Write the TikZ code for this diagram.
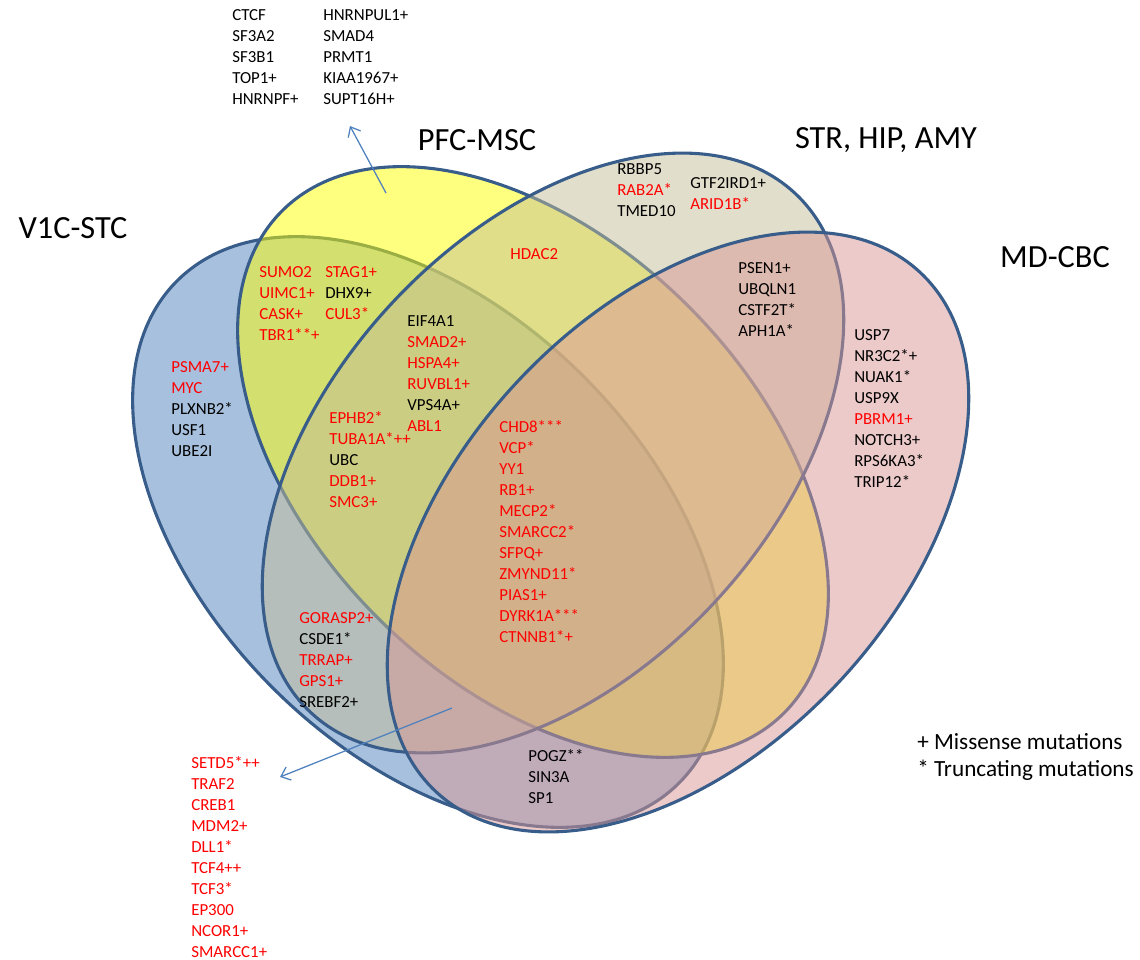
\documentclass[tikz,border=0pt]{standalone}
\usepackage{fontspec}
\setmainfont{Carlito}
\usetikzlibrary{arrows.meta}

\definecolor{setblue}{HTML}{4F81BD}
\definecolor{setyellow}{HTML}{FFFF00}
\definecolor{settan}{HTML}{C4BD97}
\definecolor{setpink}{HTML}{D99694}
\definecolor{rim}{HTML}{385D8A}
\definecolor{hit}{HTML}{FF0000}

% genes printed in red
\newcommand{\rgene}[1]{\textcolor{hit}{#1}}

\tikzset{
  venn/.style={draw=rim, line width=2.2pt, fill opacity=0.5},
  genes/.style={anchor=north west, inner sep=0pt, align=left,
    font=\fontsize{12}{14.9}\selectfont},
  setname/.style={anchor=base, inner sep=0pt, font=\fontsize{23}{27}\selectfont},
  pointer/.style={draw=setblue, line width=0.9pt,
    -{Straight Barb[length=6pt,width=10pt]}},
}

\begin{document}
\begin{tikzpicture}[x=0.025cm, y=-0.025cm]
\useasboundingbox (0,0) rectangle (1140,960);

% the four sets, drawn back to front
\draw[venn, fill=setblue, rotate around={-45:(428,532)}] (428,532) ellipse [x radius=355, y radius=220];
\draw[venn, fill=setyellow, rotate around={-45:(533,462)}] (533,462) ellipse [x radius=355, y radius=220];
\draw[venn, fill=settan, rotate around={47:(553,453)}] (553,453) ellipse [x radius=355, y radius=220];
\draw[venn, fill=setpink, rotate around={47:(678,532)}] (678,532) ellipse [x radius=355, y radius=220];

% set names
\node[setname] (v1c) at (73,238) {V1C-STC};
\node[setname] (pfc) at (477,150) {PFC-MSC};
\node[setname] (str) at (886,148) {STR, HIP, AMY};
\node[setname] (mdc) at (1055,267) {MD-CBC};

% genes
\node[genes] (topA) at (232,9.5) {CTCF\\SF3A2\\SF3B1\\TOP1+\\HNRNPF+};
\node[genes] (topB) at (323,9.5) {HNRNPUL1+\\SMAD4\\PRMT1\\KIAA1967+\\SUPT16H+};

\node[genes] (strA) at (617,163.5) {RBBP5\\\rgene{RAB2A*}\\TMED10};
\node[genes] (strB) at (690,177.5) {GTF2IRD1+\\\rgene{ARID1B*}};
\node[genes] (hdac) at (510,248.5) {\rgene{HDAC2}};

\node[genes] (pfcA) at (259,266.5) {\rgene{SUMO2}\\\rgene{UIMC1+}\\\rgene{CASK+}\\\rgene{TBR1**+}};
\node[genes] (pfcB) at (325,266.5) {\rgene{STAG1+}\\DHX9+\\\rgene{CUL3*}};

\node[genes] (eif) at (407,315.5) {EIF4A1\\\rgene{SMAD2+}\\\rgene{HSPA4+}\\\rgene{RUVBL1+}\\VPS4A+\\\rgene{ABL1}};
\node[genes] (ephb) at (329,411.5) {\rgene{EPHB2*}\\\rgene{TUBA1A*++}\\UBC\\\rgene{DDB1+}\\\rgene{SMC3+}};

\node[genes] (v1cOnly) at (171,361.5) {\rgene{PSMA7+}\\\rgene{MYC}\\PLXNB2*\\USF1\\UBE2I};

\node[genes] (core) at (499,420.5) {\rgene{CHD8***}\\\rgene{VCP*}\\\rgene{YY1}\\\rgene{RB1+}\\\rgene{MECP2*}\\\rgene{SMARCC2*}\\\rgene{SFPQ+}\\\rgene{ZMYND11*}\\\rgene{PIAS1+}\\\rgene{DYRK1A***}\\\rgene{CTNNB1*+}};

\node[genes] (psen) at (738,262.5) {PSEN1+\\UBQLN1\\CSTF2T*\\APH1A*};
\node[genes] (mdcOnly) at (854,329.5) {USP7\\NR3C2*+\\NUAK1*\\USP9X\\\rgene{PBRM1+}\\NOTCH3+\\RPS6KA3*\\TRIP12*};

\node[genes] (gorasp) at (299,612.5) {\rgene{GORASP2+}\\CSDE1*\\\rgene{TRRAP+}\\\rgene{GPS1+}\\SREBF2+};
\node[genes] (setd) at (191,756.5) {\rgene{SETD5*++}\\\rgene{TRAF2}\\\rgene{CREB1}\\\rgene{MDM2+}\\\rgene{DLL1*}\\\rgene{TCF4++}\\\rgene{TCF3*}\\\rgene{EP300}\\\rgene{NCOR1+}\\\rgene{SMARCC1+}};
\node[genes] (pogz) at (528,749.5) {POGZ**\\SIN3A\\SP1};

% legend
\node[genes, font=\fontsize{16.5}{19.2}\selectfont] (legend) at (917,733.5) {+ Missense mutations\\* Truncating mutations};

% pointers to the lists outside the sets
\coordinate (pfcFrom) at (386,193);
\coordinate (pfcTo) at (350,126);
\draw[pointer] (pfcFrom) -- (pfcTo);
\coordinate (lowFrom) at (452,708);
\coordinate (lowTo) at (280,777);
\draw[pointer] (lowFrom) -- (lowTo);

\end{tikzpicture}
\end{document}
